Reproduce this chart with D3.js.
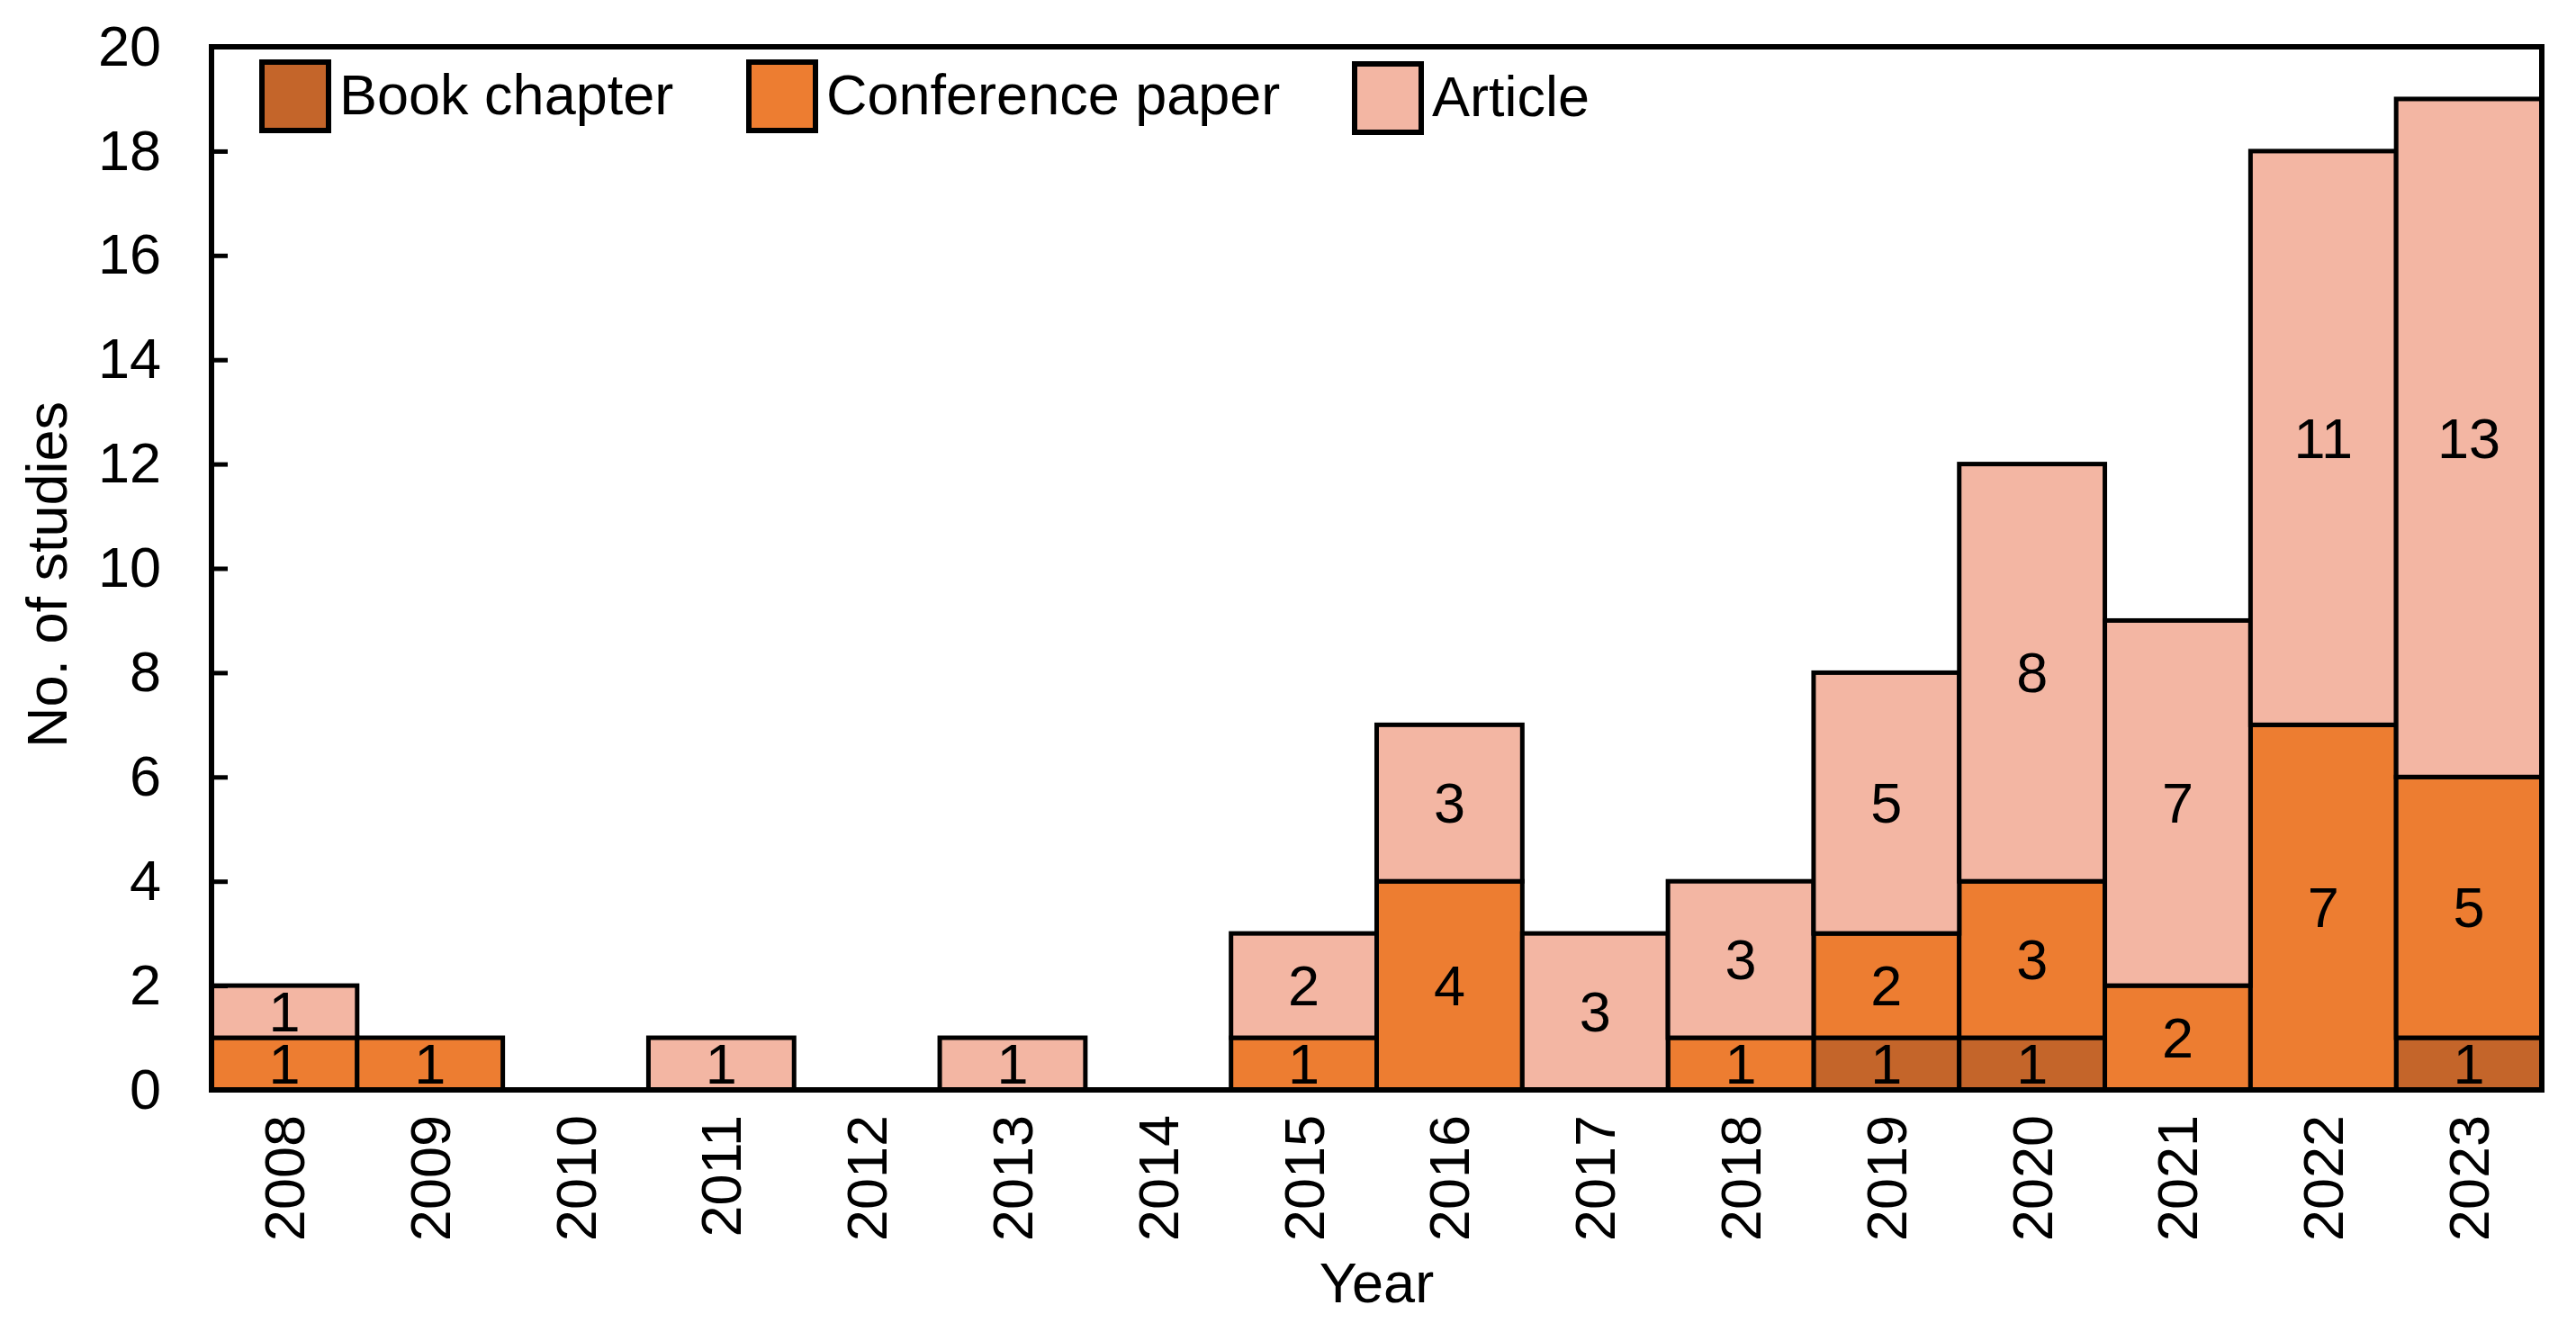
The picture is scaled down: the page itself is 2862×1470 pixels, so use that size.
<!DOCTYPE html>
<html>
<head>
<meta charset="utf-8">
<script src="https://cdn.jsdelivr.net/npm/d3@7"></script>
<style>
  html, body { margin: 0; padding: 0; background: #fff; }
  svg { display: block; }
  text { font-family: "Liberation Sans", Arial, sans-serif; fill: #000; }
</style>
</head>
<body>
<svg id="chart" width="2862" height="1470"></svg>
<script>
// ---- data ----
const years = ["2008","2009","2010","2011","2012","2013","2014","2015","2016","2017","2018","2019","2020","2021","2022","2023"];
const bookChapter =     [0,0,0,0,0,0,0,0,0,0,0,1,1,0,0,1];
const conferencePaper = [1,1,0,0,0,0,0,1,4,0,1,2,3,2,7,5];
const article =         [1,0,0,1,0,1,0,2,3,3,3,5,8,7,11,13];
const seriesNames = ["Book chapter","Conference paper","Article"];
const seriesColors = ["#C4652A","#ED7D31","#F3B6A3"];
const yTicks = [0,2,4,6,8,10,12,14,16,18,20];
const xTitle = "Year";
const yTitle = "No. of studies";

// ---- layout ----
const plotL = 235, plotR = 2824, plotT = 52, plotB = 1211;
const svg = d3.select("#chart");

const rows = years.map((yr, i) => ({year: yr, s0: bookChapter[i], s1: conferencePaper[i], s2: article[i]}));
const keys = ["s0","s1","s2"];
const stacked = d3.stack().keys(keys)(rows);

const x = d3.scaleBand().domain(years).range([plotL, plotR]).padding(0);
const y = d3.scaleLinear().domain([0, 20]).range([plotB, plotT]);

const FS = 63;

// bars
const layers = svg.append("g").selectAll("g").data(stacked).join("g")
  .attr("fill", (d, i) => seriesColors[i]);

layers.selectAll("rect")
  .data(d => d.map(seg => ({seg, key: d.key})).filter(o => o.seg[1] - o.seg[0] > 0))
  .join("rect")
  .attr("x", o => x(o.seg.data.year))
  .attr("width", x.bandwidth())
  .attr("y", o => y(o.seg[1]))
  .attr("height", o => y(o.seg[0]) - y(o.seg[1]))
  .attr("stroke", "#000")
  .attr("stroke-width", 5);

// value labels
const labelG = svg.append("g");
stacked.forEach(layer => {
  labelG.selectAll(null)
    .data(layer.filter(seg => seg[1] - seg[0] > 0))
    .join("text")
    .attr("x", seg => x(seg.data.year) + x.bandwidth() / 2)
    .attr("y", seg => (y(seg[0]) + y(seg[1])) / 2)
    .attr("text-anchor", "middle")
    .attr("dominant-baseline", "central")
    .attr("font-size", FS)
    .attr("fill", "#000")
    .text(seg => seg[1] - seg[0]);
});

// frame
svg.append("rect")
  .attr("x", plotL).attr("y", plotT)
  .attr("width", plotR - plotL).attr("height", plotB - plotT)
  .attr("fill", "none").attr("stroke", "#000").attr("stroke-width", 6);

// y axis
const yAxis = d3.axisLeft(y).tickValues(yTicks).tickSizeInner(-18).tickSizeOuter(0).tickPadding(56);
const gy = svg.append("g").attr("transform", `translate(${plotL},0)`).call(yAxis);
gy.select(".domain").remove();
gy.selectAll(".tick line").attr("stroke", "#000").attr("stroke-width", 5);
gy.selectAll(".tick text")
  .attr("font-size", FS)
  .attr("font-family", "Liberation Sans, Arial, sans-serif")
  .attr("fill", "#000");

// x axis labels (rotated)
const xAxis = d3.axisBottom(x).tickSize(0).tickPadding(0);
const gx = svg.append("g").attr("transform", `translate(0,${plotB})`).call(xAxis);
gx.select(".domain").remove();
gx.selectAll(".tick text")
  .attr("font-size", FS)
  .attr("font-family", "Liberation Sans, Arial, sans-serif")
  .attr("fill", "#000")
  .attr("text-anchor", "end")
  .attr("dy", null)
  .attr("y", 0)
  .attr("dominant-baseline", "central")
  .attr("transform", "translate(0,28) rotate(-90)");

// axis titles
svg.append("text")
  .attr("x", (plotL + plotR) / 2)
  .attr("y", 1447)
  .attr("text-anchor", "middle")
  .attr("font-size", FS)
  .text(xTitle);

svg.append("text")
  .attr("transform", `translate(74,${(plotT + plotB) / 2 + 7}) rotate(-90)`)
  .attr("text-anchor", "middle")
  .attr("font-size", FS)
  .text(yTitle);

// legend
const legendX = [291, 832, 1505];
const lg = svg.append("g").selectAll("g").data(seriesNames).join("g")
  .attr("transform", (d, i) => `translate(${legendX[i]},${i === 2 ? 71 : 69})`);
lg.append("rect")
  .attr("width", 74).attr("height", 76)
  .attr("fill", (d, i) => seriesColors[i])
  .attr("stroke", "#000").attr("stroke-width", 6);
lg.append("text")
  .attr("x", 86)
  .attr("y", 36)
  .attr("dominant-baseline", "central")
  .attr("font-size", FS)
  .text(d => d);
</script>
</body>
</html>
